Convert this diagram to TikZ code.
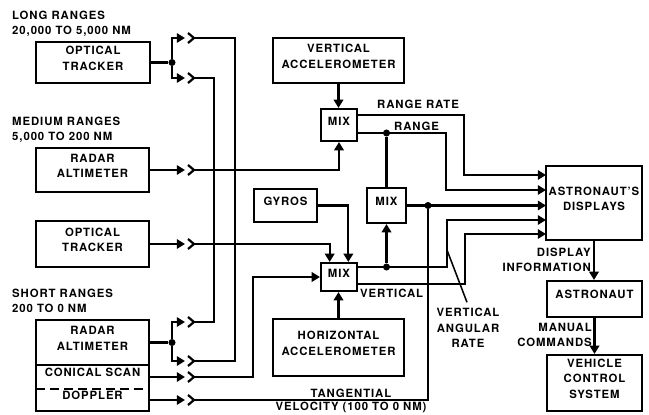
\documentclass[tikz,border=0pt]{standalone}
\usepackage{fontspec}
\setmainfont{TeX Gyre Heros}[LetterSpace=8]
\usetikzlibrary{arrows.meta,calc,fit}

\tikzset{
  wire/.style={line width=1.9pt},
  feed/.style={wire, -{Triangle[length=7pt,width=8pt]}},
  box/.style={draw, line width=1.8pt, inner sep=0pt, align=center},
  cell/.style={inner sep=0pt, align=center},
  dot/.style={circle, fill, inner sep=0pt, minimum size=6pt},
  note/.style={inner sep=0pt},
  lead/.style={line width=1.3pt},
  plug/.pic={\draw[wire] (-6,-5) -- (0,0) -- (-6,5);}
}

\begin{document}
\begin{tikzpicture}[x=0.3mm, y=-0.3mm,
  every node/.style={font=\bfseries\fontsize{9.7}{13}\selectfont}]
  \useasboundingbox (0,0) rectangle (649,414);

  % sources on the left
  \node[note, align=left, anchor=west] at (12,24) {LONG RANGES\\20,000 TO 5,000 NM};
  \node[box, fit={(36,42) (150,83)}] (ot1) {OPTICAL\\TRACKER};
  \node[note, align=left, anchor=west] at (12,130) {MEDIUM RANGES\\5,000 TO 200 NM};
  \node[box, fit={(36,148) (149,192)}] (ra1) {RADAR\\ALTIMETER};
  \node[box, fit={(36,221) (149,267)}] (ot2) {OPTICAL\\TRACKER};
  \node[note, align=left, anchor=west] at (12,301) {SHORT RANGES\\200 TO 0 NM};
  \node[box, fit={(36,320) (149,365)}] (ra2) {RADAR\\ALTIMETER};
  \node[cell, fit={(36,365) (149,389)}] (cs) {CONICAL SCAN};
  \node[cell, fit={(36,389) (149,411)}] (dp) {DOPPLER};
  \draw[line width=1.8pt] (cs.north west) rectangle (dp.south east);
  \draw[line width=1.8pt, dash pattern=on 2.8mm off 1.4mm] (cs.south west) -- (cs.south east);

  % plugs
  \coordinate (bus) at (172,0);
  \foreach \n/\y in {1/38,2/78,3/170,4/244,5/322,6/361,7/377,8/400}{
    \coordinate (t\n) at (185,\y);
    \coordinate (s\n) at (194,\y);
    \pic at (s\n) {plug};
  }
  \node[dot] (j1) at (ot1.east -| bus) {};
  \node[dot] (j2) at (ra2.east -| bus) {};
  \draw[wire] (ot1.east) -- (j1);
  \draw[feed] (j1) |- (t1);
  \draw[feed] (j1) |- (t2);
  \draw[feed] (ra1.east) -- (t3);
  \draw[feed] (ot2.east) -- (t4);
  \draw[wire] (ra2.east) -- (j2);
  \draw[feed] (j2) |- (t5);
  \draw[feed] (j2) |- (t6);
  \draw[feed] (cs.east) -- (t7);
  \draw[feed] (dp.east) -- (t8);
  \draw[wire] (s1) -| (235,361) -- (s6);
  \draw[wire] (s2) -| (214,322) -- (s5);

  % mixers
  \node[box, fit={(273,38) (404,83)}] (va) {VERTICAL\\ACCELEROMETER};
  \node[box, fit={(321,109) (357,141)}] (mix1) {MIX};
  \node[box, fit={(367,188) (406,223)}] (mix2) {MIX};
  \node[box, fit={(254,189) (317,222)}] (gyro) {GYROS};
  \node[box, fit={(321,263) (357,291)}] (mix3) {MIX};
  \node[box, fit={(273,319) (404,376)}] (ha) {HORIZONTAL\\ACCELEROMETER};

  \draw[feed] (va.south) -- (va.south |- mix1.north);
  \draw[feed] (s3) -| (mix1.south);
  \draw[feed] (s4) -| ([xshift=-2.8mm]mix3.north);
  \draw[feed] (gyro.east) -| ([xshift=2.8mm]mix3.north);
  \draw[feed] (s7) -| (253,277) -- (mix3.west);
  \draw[feed] (ha.north) -- (ha.north |- mix3.south);

  % displays and astronaut
  \node[box, fit={(546,166) (642,240)}] (disp) {ASTRONAUT'S\\DISPLAYS};
  \node[box, fit={(547,281) (642,317)}] (astro) {ASTRONAUT};
  \node[box, fit={(547,355) (642,411)}] (vcs) {VEHICLE\\CONTROL\\SYSTEM};
  \foreach \n/\y in {1/175,2/190,3/205.5,4/220,5/234}
    \coordinate (in\n) at (546,\y);

  \coordinate (m1a) at (357,115);
  \coordinate (m1b) at (357,133);
  \coordinate (m3a) at (357,267);
  \coordinate (m3b) at (357,284);
  \node[dot] (d1) at (386.5,133) {};
  \node[dot] (d2) at (386.5,267) {};
  \node[dot] (d3) at (428,205.5) {};

  \draw[feed] (m1a) -| (464,175) -- (in1);
  \draw[feed] (m1b) -| (446,190) -- (in2);
  \draw[wire] (d1) -- (mix2.north);
  \draw[feed] (mix2.east) -- (in3);
  \draw[wire] (s8) -| (d3);
  \draw[feed] (m3a) -| (447,220) -- (in4);
  \draw[feed] (d2) -- (mix2.south);
  \draw[feed] (m3b) -| (465,234) -- (in5);

  \draw[feed] (disp.south) -- (disp.south |- astro.north);
  \draw[feed] (astro.south) -- (astro.south |- vcs.north);

  % labels
  \node[note, anchor=west] at (377,104) {RANGE RATE};
  \node[note, anchor=west] at (394,126) {RANGE};
  \node[note, anchor=west] at (360,293) {VERTICAL};
  \node[note] at (351,393) {TANGENTIAL};
  \node[note] at (351,407) {VELOCITY (100 TO 0 NM)};
  \node[note, align=center] (varlab) at (468,328) {VERTICAL\\ANGULAR\\RATE};
  \coordinate (lf) at (447,250);
  \draw[lead] (lf) -- ($(varlab.north)+(-1,-6)$);
  \node[note, align=right, anchor=east] at (591,260) {DISPLAY\\INFORMATION};
  \node[note, align=right, anchor=east] at (592,335) {MANUAL\\COMMANDS};
\end{tikzpicture}
\end{document}
